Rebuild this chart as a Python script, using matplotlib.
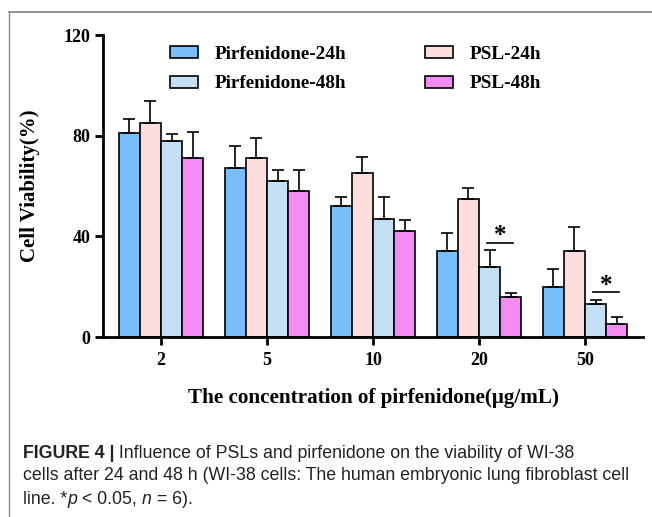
import matplotlib
matplotlib.use('Agg')
import matplotlib.pyplot as plt
from matplotlib.lines import Line2D
import numpy as np

# ---------------- data ----------------
concentrations = ['2', '5', '10', '20', '50']
series_names = ['Pirfenidone-24h', 'PSL-24h', 'Pirfenidone-48h', 'PSL-48h']
pirf_24 = [81, 67, 52, 34, 20]
pirf_24_err = [5.6, 9.0, 3.7, 7.5, 6.9]
psl_24 = [85, 71, 65, 55, 34]
psl_24_err = [8.6, 7.9, 6.6, 4.3, 9.7]
pirf_48 = [78, 62, 47, 28, 13]
pirf_48_err = [2.6, 4.2, 8.6, 6.4, 1.7]
psl_48 = [71, 58, 42, 16, 5]
psl_48_err = [10.6, 8.2, 4.6, 1.4, 3.0]
sig_groups = ['20', '50']
y_ticks = [0, 40, 80, 120]
x_label = 'The concentration of pirfenidone(μg/mL)'
y_label = 'Cell Viability(%)'
caption_bold = 'FIGURE 4 |'
caption_1 = ' Influence of PSLs and pirfenidone on the viability of WI-38'
caption_2 = 'cells after 24 and 48 h (WI-38 cells: The human embryonic lung fibroblast cell'

colors = ['#78BEF8', '#FDDEDE', '#C4DEF4', '#F28CF3']

serif = ['Liberation Serif', 'DejaVu Serif']
narrow = ['Liberation Sans Narrow', 'Liberation Sans', 'DejaVu Sans']

W, H = 652, 517
fig = plt.figure(figsize=(W / 100, H / 100), dpi=100)

def fx(px):
    return px / W

def fy(py):
    return 1 - py / H

ax = fig.add_axes([fx(103), fy(337), (643 - 103) / W, (337 - 35) / H])

values = [pirf_24, psl_24, pirf_48, psl_48]
errors = [pirf_24_err, psl_24_err, pirf_48_err, psl_48_err]
x = np.arange(len(concentrations))
width = 0.2
offsets = [-1.5, -0.5, 0.5, 1.5]
for vals, errs, col, off, name in zip(values, errors, colors, offsets, series_names):
    ax.bar(x + off * width, vals, width, color=col, edgecolor='black', linewidth=1.2,
           label=name, zorder=2)
    ax.errorbar(x + off * width, vals, yerr=[np.zeros(len(errs)), errs], fmt='none',
                ecolor='black', elinewidth=1.2, capsize=4.5, capthick=1.2, zorder=3)

# significance marks between Pirfenidone-48h and PSL-48h
for g in sig_groups:
    i = concentrations.index(g)
    top = max(pirf_48[i] + pirf_48_err[i], psl_48[i] + psl_48_err[i]) + 3
    ax.plot([i + 0.5 * width - 0.02, i + 1.5 * width + 0.02], [top, top], color='black', lw=1.2)
    ax.text(i + width, top - 1.8, '*', ha='center', va='bottom', fontsize=18,
            fontweight='bold', family=serif)

ax.set_xlim(-0.547, 4.547)
ax.set_ylim(0, 120)
ax.set_yticks(y_ticks)
ax.set_xticks(x)
ax.set_xticklabels(concentrations)
for s in ['top', 'right']:
    ax.spines[s].set_visible(False)
for s in ['left', 'bottom']:
    ax.spines[s].set_linewidth(2)
ax.tick_params(direction='out', length=6, width=2, pad=3)
ax.tick_params(axis='x', pad=5)
for lab in ax.get_xticklabels() + ax.get_yticklabels():
    lab.set_family(serif)
    lab.set_fontweight('bold')
    lab.set_fontsize(13)

ax.set_xlabel(x_label, family=serif, fontweight='bold', fontsize=15.2)
ax.set_ylabel(y_label, family=serif, fontweight='bold', fontsize=15)
ax.xaxis.set_label_coords(0.5, (337 - 398) / 302)
ax.xaxis.label.set_va('center')
ax.yaxis.set_label_coords((30 - 103) / 540, 0.5)
ax.yaxis.label.set_va('center')

handles, labels = ax.get_legend_handles_labels()
order = [0, 2, 1, 3]
leg = fig.legend([handles[k] for k in order], [labels[k] for k in order], ncol=2,
                 loc='upper left', bbox_to_anchor=(fx(170), fy(46)), frameon=False,
                 prop={'family': serif, 'weight': 'bold', 'size': 13.8},
                 handlelength=1.45, handleheight=0.62, handletextpad=0.89,
                 columnspacing=4.1, labelspacing=0.65, borderpad=0, borderaxespad=0)

# frame lines
fig.add_artist(Line2D([fx(9), 1], [fy(11.5), fy(11.5)], color='#8c8c8c', lw=1.3,
                      transform=fig.transFigure))
fig.add_artist(Line2D([fx(9), fx(9)], [0, fy(11.5)], color='#8c8c8c', lw=1.0,
                      transform=fig.transFigure))

# caption: fit font size to the reference line width
renderer = fig.canvas.get_renderer()
probe = fig.text(0, 0, caption_2, family=narrow, fontsize=10)
wpx = probe.get_window_extent(renderer).width
probe.remove()
cs = 10 * (631 - 23) / wpx

t1 = fig.text(fx(23), fy(453), caption_bold, family=narrow, fontweight='bold', fontsize=cs,
              va='center', ha='left', color='#222222')
ax.annotate(caption_1, xy=(1, 0), xycoords=t1, va='bottom', ha='left',
            family=narrow, fontsize=cs, color='#222222', annotation_clip=False)
fig.text(fx(23), fy(476), caption_2, family=narrow, fontsize=cs, va='center', ha='left',
         color='#222222')
t3 = fig.text(fx(23), fy(499), 'line. *', family=narrow, fontsize=cs, va='center',
              ha='left', color='#222222')
prev = t3
for piece, style in [('p', 'italic'), (' < 0.05, ', 'normal'), ('n', 'italic'),
                     (' = 6).', 'normal')]:
    prev = ax.annotate(piece, xy=(1, 0), xycoords=prev, va='bottom', ha='left',
                       family=narrow, fontsize=cs, fontstyle=style, color='#222222',
                       annotation_clip=False)

fig.savefig('out.png', dpi=100)
